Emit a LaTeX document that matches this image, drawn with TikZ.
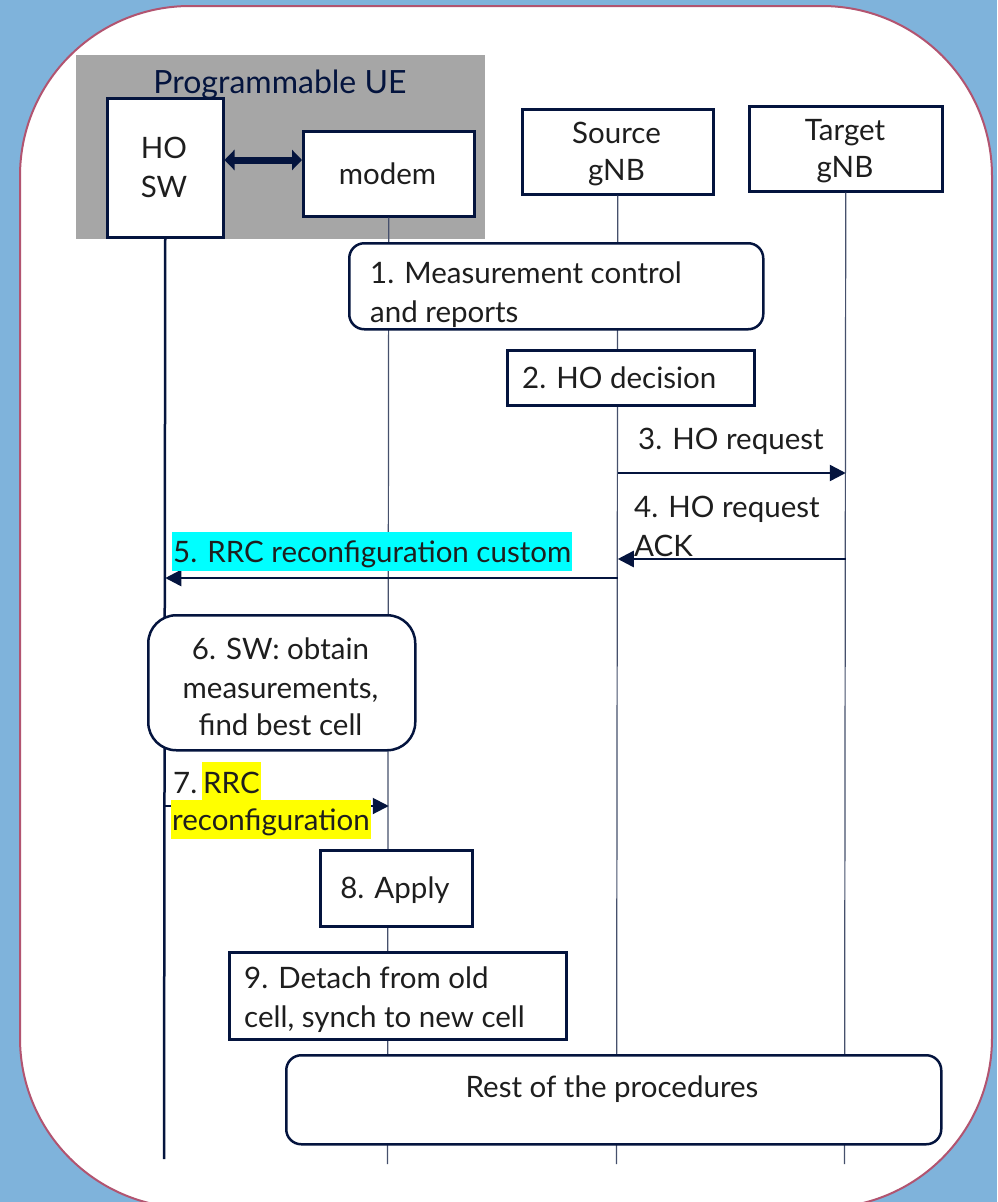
\documentclass[tikz,border=0pt]{standalone}
\usepackage{fontspec}
\setmainfont{Lato}
\usetikzlibrary{arrows.meta}
\definecolor{sky}{RGB}{127,179,219}
\definecolor{rim}{RGB}{178,84,112}
\definecolor{navy}{RGB}{4,20,62}
\definecolor{ink}{RGB}{30,30,30}
\definecolor{lifegrey}{RGB}{70,80,108}
\definecolor{uegrey}{RGB}{166,166,166}
\definecolor{hlcyan}{RGB}{0,255,255}
\definecolor{hlyellow}{RGB}{255,255,0}
\begin{document}
\begin{tikzpicture}[x=1pt,y=-1pt,
  stepbox/.style={draw=navy, line width=2.5pt, fill=white, inner sep=0pt, anchor=north west},
  roundbox/.style={stepbox, rounded corners=#1},
  txt/.style={text=ink, inner sep=0pt, font=\fontsize{29.5}{36}\selectfont},
  lifeline/.style={draw=lifegrey, line width=1.2pt},
  msg/.style={draw=navy, line width=2.5pt, -{Triangle[length=16pt,width=16pt]}},
]
\useasboundingbox (0,0) rectangle (997,1202);
\fill[sky] (0,0) rectangle (997,1202);
\begin{scope}
  \clip (0,0) rectangle (997,1202);
  \draw[rim, line width=2pt, fill=white, rounded corners=170pt] (20,6) rectangle (992,1208);
\end{scope}

% programmable UE group
\node[fill=uegrey, inner sep=0pt, minimum width=409pt, minimum height=184pt, anchor=north west] (ue) at (76,55) {};
\node[txt, text=navy, font=\fontsize{32}{38}\selectfont, anchor=base] (uetitle) at (280,93) {Programmable UE};

% participants
\node[stepbox, minimum width=116pt, minimum height=139pt] (hosw) at (106,97) {};
\node[txt, anchor=base] (hoswA) at (164,158) {HO};
\node[txt, anchor=base] (hoswB) at (164,197) {SW};

\node[stepbox, minimum width=171pt, minimum height=85pt] (modem) at (302,130) {};
\node[txt, anchor=base] (modemA) at (387.5,184) {modem};

\node[stepbox, minimum width=191pt, minimum height=85pt] (src) at (521,108) {};
\node[txt, anchor=base] (srcA) at (616.5,143) {Source};
\node[txt, anchor=base] (srcB) at (616.5,180) {gNB};

\node[stepbox, minimum width=193pt, minimum height=85pt] (tgt) at (748,105) {};
\node[txt, anchor=base] (tgtA) at (845,140) {Target};
\node[txt, anchor=base] (tgtB) at (845,177) {gNB};

% internal link between software and modem
\draw[navy, line width=7pt, {Triangle[length=10pt,width=20pt]}-{Triangle[length=10pt,width=20pt]}]
  (hosw.east |- 0,160) -- (modem.west |- 0,160);

% lifelines
\coordinate (hoswEnd) at (164,1159);
\coordinate (modemEnd) at (387.5,1164);
\coordinate (srcEnd) at (616.5,1164);
\coordinate (tgtEnd) at (844.5,1164);
\draw[navy, line width=2.5pt] (hosw.south) -- (hoswEnd);
\draw[lifeline] (modem.south) -- (modemEnd);
\draw[lifeline] (src.south) -- (srcEnd);
\draw[lifeline] (tgt.south) -- (tgtEnd);

% 1. measurement control
\node[roundbox=15pt, minimum width=414pt, minimum height=86pt] (meas) at (348,242) {};
\node[txt, anchor=base west] (measA) at (370,283) {1. Measurement control};
\node[txt, anchor=base west] (measB) at (370,322) {and reports};

% 2. HO decision
\node[stepbox, minimum width=247pt, minimum height=55pt] (dec) at (506,349) {};
\node[txt, anchor=base west] (decA) at (522,388) {2. HO decision};

% 3. HO request
\draw[msg] (src |- 0,473) -- (tgt |- 0,473);
\node[txt, anchor=base west] (reqA) at (638,449) {3. HO request};

% 4. HO request ACK
\draw[msg] (tgt |- 0,559) -- (src |- 0,559);
\node[txt, anchor=base west] (ackA) at (634,517) {4. HO request};
\node[txt, anchor=base west] (ackB) at (634,556) {ACK};

% 5. RRC reconfiguration custom
\draw[msg] (src |- 0,578) -- (hosw |- 0,578);
\node[txt, fill=hlcyan, anchor=base west, inner xsep=1pt, text height=30pt, text depth=9pt] (rrcA) at (172,562) {5. RRC reconfiguration custom};

% 6. software step
\node[roundbox=28pt, minimum width=267pt, minimum height=135pt] (sw) at (147,614) {};
\node[txt, anchor=base] (swA) at (280.5,659) {6. SW: obtain};
\node[txt, anchor=base] (swB) at (280.5,698) {measurements,};
\node[txt, anchor=base] (swC) at (280.5,735) {find best cell};

% 7. RRC reconfiguration
\draw[msg, line width=2pt] (hosw |- 0,806) -- (modem |- 0,806);
\node[txt, anchor=base west] (cfgN) at (173,793) {7.};
\node[txt, fill=hlyellow, anchor=base west, inner xsep=1pt, text height=31pt, text depth=7pt] (cfgA) at (202,793) {RRC};
\node[txt, fill=hlyellow, anchor=base west, inner xsep=1pt, text height=30pt, text depth=9pt] (cfgB) at (171,830) {reconfiguration};

% 8. apply
\node[stepbox, minimum width=152pt, minimum height=76pt] (apply) at (319,849) {};
\node[txt, anchor=base] (applyA) at (395,898) {8. Apply};

% 9. detach
\node[stepbox, minimum width=337pt, minimum height=87pt] (detach) at (228,951) {};
\node[txt, anchor=base west] (detachA) at (244,988) {9. Detach from old};
\node[txt, anchor=base west] (detachB) at (244,1027) {cell, synch to new cell};

% remaining procedures
\node[roundbox=15pt, minimum width=655pt, minimum height=89pt] (rest) at (285,1054) {};
\node[txt, anchor=base] (restA) at (612,1097) {Rest of the procedures};
\end{tikzpicture}
\end{document}
